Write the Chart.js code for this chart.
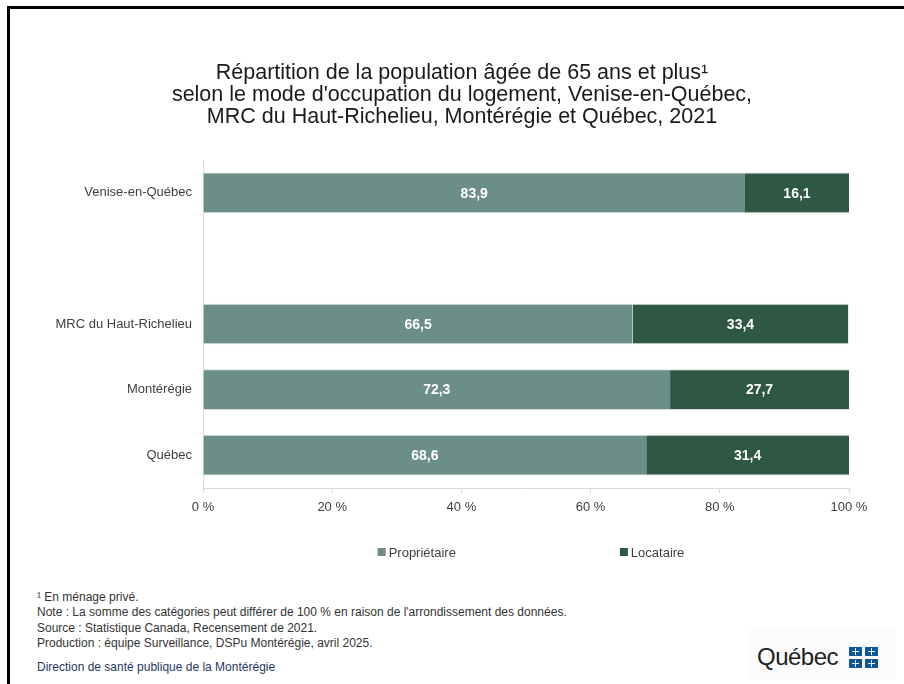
<!DOCTYPE html>
<html>
<head>
<meta charset="utf-8">
<script src="https://cdn.jsdelivr.net/npm/chart.js@4"></script>
<style>
  html, body { margin: 0; padding: 0; background: #fff; }
  body { width: 904px; height: 684px; position: relative; overflow: hidden; font-family: "Liberation Sans", Arial, sans-serif; }
  #frame { position: absolute; left: 7px; top: 6px; width: 904px; height: 700px; border-top: 3px solid #000; border-left: 3px solid #000; box-sizing: border-box; }
  #wrap { position: absolute; left: 0; top: 0; width: 904px; height: 580px; }
  #title { position: absolute; left: 20px; top: 61px; width: 884px; text-align: center; font-size: 21.5px; line-height: 22px; color: #1a1a1a; }
  #notes { position: absolute; left: 37px; top: 590px; font-size: 12px; line-height: 15.3px; color: #333; }
  #dir { position: absolute; left: 37px; top: 660px; font-size: 12px; color: #1F3864; }
  #logo { position: absolute; left: 746px; top: 630px; width: 150px; height: 50px; background: #fcfcfc; }
  #logo .txt { position: absolute; left: 11px; top: 13px; font-size: 24px; color: #222; font-family: "Liberation Sans", Arial, sans-serif; letter-spacing: -0.5px; }
  #logo .flag { position: absolute; left: 103px; top: 17px; width: 29px; height: 21px; display: grid; grid-template-columns: 13px 13px; grid-template-rows: 9px 9px; gap: 3px; }
  #logo .flag div { background: #095797; position: relative; }
  #logo .flag div::before { content: ""; position: absolute; left: 6px; top: 1px; width: 1px; height: 7px; background: #fff; }
  #logo .flag div::after { content: ""; position: absolute; left: 3px; top: 4px; width: 7px; height: 1px; background: #fff; }
</style>
</head>
<body>
<div id="frame"></div>
<div id="wrap"><canvas id="c" width="904" height="580"></canvas></div>
<div id="title"></div>
<div id="notes">
  <div>¹ En ménage privé.</div>
  <div>Note : La somme des catégories peut différer de 100 % en raison de l'arrondissement des données.</div>
  <div>Source : Statistique Canada, Recensement de 2021.</div>
  <div>Production : équipe Surveillance, DSPu Montérégie, avril 2025.</div>
</div>
<div id="dir">Direction de santé publique de la Montérégie</div>
<div id="logo"><span class="txt">Québec</span><div class="flag"><div></div><div></div><div></div><div></div></div></div>
<script>
const categories = ['Venise-en-Québec', '', 'MRC du Haut-Richelieu', 'Montérégie', 'Québec'];
const proprietaire = [83.9, null, 66.5, 72.3, 68.6];
const locataire = [16.1, null, 33.4, 27.7, 31.4];
const seriesNames = ['Propriétaire', 'Locataire'];
const xTicks = [0, 20, 40, 60, 80, 100];
const titleLines = [
  'Répartition de la population âgée de 65 ans et plus¹',
  "selon le mode d'occupation du logement, Venise-en-Québec,",
  'MRC du Haut-Richelieu, Montérégie et Québec, 2021'
];

const titleEl = document.getElementById('title');
titleLines.forEach(t => { const d = document.createElement('div'); d.textContent = t; titleEl.appendChild(d); });

const fmt = v => v.toFixed(1).replace('.', ',');

const barLabels = {
  id: 'barLabels',
  afterDatasetsDraw(chart) {
    const ctx = chart.ctx;
    ctx.save();
    ctx.fillStyle = '#ffffff';
    ctx.font = 'bold 14px "Liberation Sans", Arial, sans-serif';
    ctx.textAlign = 'center';
    ctx.textBaseline = 'middle';
    chart.data.datasets.forEach((ds, di) => {
      const meta = chart.getDatasetMeta(di);
      meta.data.forEach((el, i) => {
        const v = ds.data[i];
        if (v === null || v === undefined) return;
        ctx.fillText(fmt(v), (el.x + el.base) / 2, el.y + 1);
      });
    });
    ctx.restore();
  }
};

const customLegend = {
  id: 'customLegend',
  afterDraw(chart) {
    const ctx = chart.ctx;
    const ca = chart.chartArea;
    ctx.save();
    ctx.font = '13px "Liberation Sans", Arial, sans-serif';
    ctx.textBaseline = 'middle';
    const box = 8, gap = 3, spacing = 164;
    const items = chart.data.datasets.map(ds => ({ text: ds.label, color: ds.backgroundColor, w: ctx.measureText(ds.label).width }));
    let total = 0;
    items.forEach((it, i) => { total += box + gap + it.w + (i < items.length - 1 ? spacing : 0); });
    let x = (ca.left + ca.right) / 2 - total / 2 + 5;
    const y = 552;
    items.forEach(it => {
      ctx.fillStyle = it.color;
      ctx.fillRect(x, y - box / 2, box, box);
      ctx.fillStyle = '#404040';
      ctx.fillText(it.text, x + box + gap, y + 1);
      x += box + gap + it.w + spacing;
    });
    ctx.restore();
  }
};

new Chart(document.getElementById('c'), {
  type: 'bar',
  data: {
    labels: categories,
    datasets: [
      { label: seriesNames[0], data: proprietaire, backgroundColor: '#6B8F88', borderColor: '#d6dedc', borderWidth: { top: 1, bottom: 1, left: 0, right: 0 }, borderSkipped: false },
      { label: seriesNames[1], data: locataire, backgroundColor: '#2F5844', borderColor: '#d6dedc', borderWidth: { top: 1, bottom: 1, left: 0, right: 0 }, borderSkipped: false }
    ]
  },
  options: {
    indexAxis: 'y',
    responsive: false,
    animation: false,
    datasets: { bar: { barPercentage: 0.62, categoryPercentage: 1 } },
    layout: { padding: { left: 20, right: 55, top: 160, bottom: 52 } },
    plugins: {
      legend: { display: false },
      tooltip: { enabled: false },
      title: { display: false }
    },
    scales: {
      x: {
        stacked: true,
        min: 0, max: 100,
        afterBuildTicks(scale) { scale.ticks = xTicks.map(v => ({ value: v })); },
        afterFit(scale) { scale.height = 40; },
        ticks: { callback: v => v + ' %', color: '#404040', font: { family: '"Liberation Sans", Arial, sans-serif', size: 13 }, padding: 7, maxRotation: 0 },
        grid: { display: true, drawOnChartArea: false, drawTicks: true, tickLength: 5, color: '#d9d9d9' },
        border: { display: true, color: '#d9d9d9' }
      },
      y: {
        stacked: true,
        afterFit(scale) { scale.width = 183; },
        ticks: { color: '#404040', font: { family: '"Liberation Sans", Arial, sans-serif', size: 13 }, padding: 3 },
        grid: { display: false },
        border: { display: true, color: '#d9d9d9' }
      }
    }
  },
  plugins: [barLabels, customLegend]
});
</script>
</body>
</html>
